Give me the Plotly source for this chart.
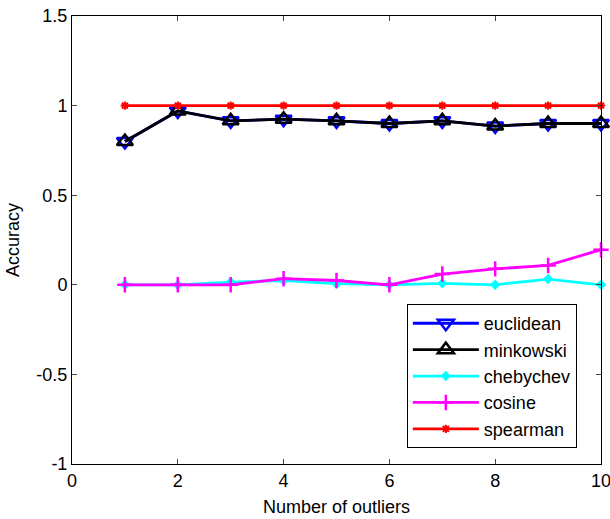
import plotly.graph_objects as go

outliers = [1, 2, 3, 4, 5, 6, 7, 8, 9, 10]
euclidean = [0.80, 0.97, 0.915, 0.924, 0.915, 0.90, 0.915, 0.886, 0.90, 0.90]
minkowski = [0.80, 0.97, 0.915, 0.924, 0.915, 0.90, 0.915, 0.886, 0.90, 0.90]
chebychev = [0.0, 0.0, 0.015, 0.024, 0.006, 0.0, 0.008, 0.0, 0.032, 0.0]
cosine = [0.0, 0.0, 0.0, 0.034, 0.024, 0.0, 0.06, 0.089, 0.108, 0.196]
spearman = [1, 1, 1, 1, 1, 1, 1, 1, 1, 1]

x_ticks = [0, 2, 4, 6, 8, 10]
y_ticks = [-1, -0.5, 0, 0.5, 1, 1.5]
y_tick_labels = ["-1", "-0.5", "0", "0.5", "1", "1.5"]

FONT = "Liberation Sans, Arial, Helvetica, sans-serif"
LW = 2.8

fig = go.Figure()
fig.add_trace(go.Scatter(x=outliers, y=euclidean, name="euclidean", mode="lines+markers",
                         cliponaxis=False,
                         line=dict(color="#0000ff", width=LW),
                         marker=dict(symbol="triangle-down-open", size=14, color="#0000ff",
                                     line=dict(width=2.5, color="#0000ff"))))
fig.add_trace(go.Scatter(x=outliers, y=minkowski, name="minkowski", mode="lines+markers",
                         cliponaxis=False,
                         line=dict(color="#000000", width=LW),
                         marker=dict(symbol="triangle-up-open", size=14, color="#000000",
                                     line=dict(width=2.5, color="#000000"))))
fig.add_trace(go.Scatter(x=outliers, y=chebychev, name="chebychev", mode="lines+markers",
                         cliponaxis=False,
                         line=dict(color="#00ffff", width=LW),
                         marker=dict(symbol="diamond", size=8, color="#00ffff")))
fig.add_trace(go.Scatter(x=outliers, y=cosine, name="cosine", mode="lines+markers",
                         cliponaxis=False,
                         line=dict(color="#ff00ff", width=LW),
                         marker=dict(symbol="cross-thin-open", size=11, color="#ff00ff",
                                     line=dict(width=2.5, color="#ff00ff"))))
fig.add_trace(go.Scatter(x=outliers, y=spearman, name="spearman", mode="lines+markers",
                         cliponaxis=False,
                         line=dict(color="#ff0000", width=LW),
                         marker=dict(symbol="asterisk-open", size=7, color="#ff0000",
                                     line=dict(width=2, color="#ff0000"))))

fig.update_layout(
    width=610, height=519,
    margin=dict(l=72, r=9, t=16, b=55),
    paper_bgcolor="white", plot_bgcolor="white",
    font=dict(family=FONT, size=18, color="#000000"),
    showlegend=True,
    legend=dict(x=0.633, y=0.357, xanchor="left", yanchor="top",
                bgcolor="white", bordercolor="#000000", borderwidth=1,
                font=dict(family=FONT, size=18), itemwidth=66,
                tracegroupgap=0),
)
fig.update_xaxes(range=[0, 10], tickvals=x_ticks, ticks="inside", ticklen=5,
                 showline=True, linecolor="#000000", linewidth=1, mirror="ticks",
                 showgrid=False, zeroline=False, automargin=False,
                 ticklabeloverflow="allow",
                 title=dict(text="Number of outliers", font=dict(size=18), standoff=10),
                 tickfont=dict(size=18))
fig.update_yaxes(range=[-1, 1.5], tickvals=y_ticks, ticktext=y_tick_labels, ticks="inside", ticklen=5,
                 showline=True, linecolor="#000000", linewidth=1, mirror="ticks",
                 showgrid=False, zeroline=False, automargin=False,
                 ticklabeloverflow="allow",
                 title=dict(text="Accuracy", font=dict(size=18), standoff=12),
                 tickfont=dict(size=18))

fig.write_html("out.html", config={"displayModeBar": False},
               post_script="document.body.style.margin='0';document.body.style.padding='0';")
